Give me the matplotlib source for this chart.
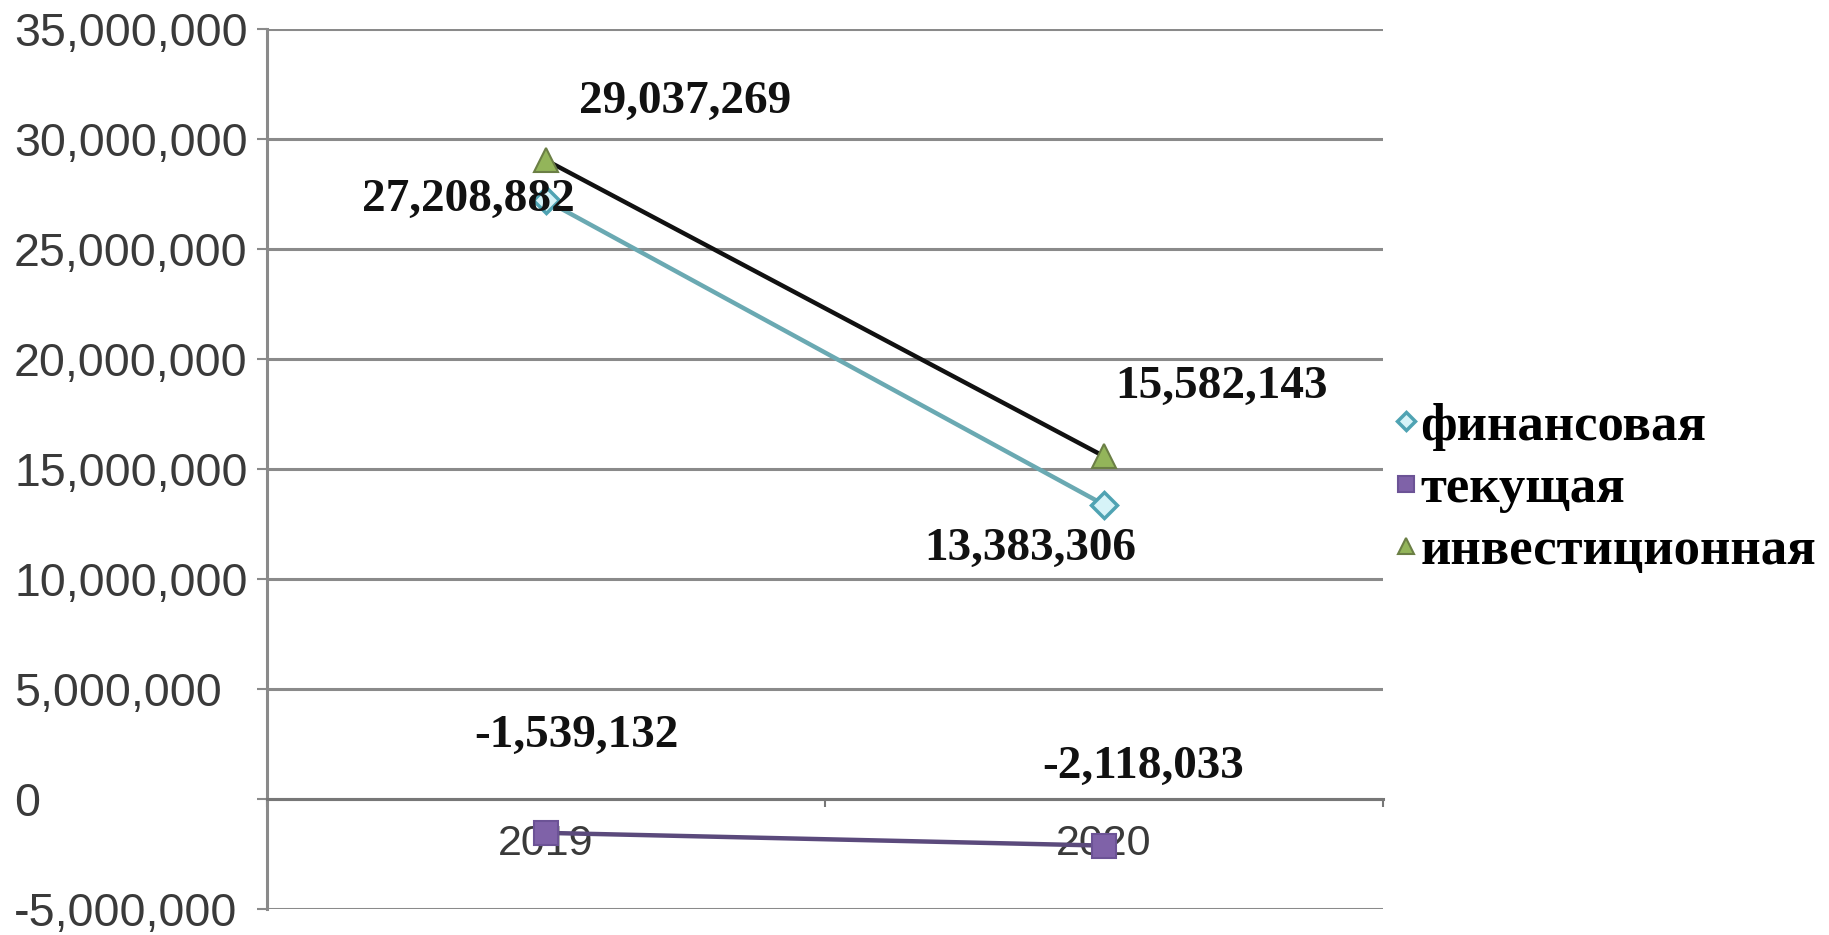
import matplotlib
matplotlib.use("Agg")
import matplotlib.pyplot as plt
from matplotlib.ticker import FuncFormatter, FixedLocator

years = ["2019", "2020"]
fin = [27208882, 13383306]
cur = [-1539132, -2118033]
inv = [29037269, 15582143]
series_names = ["финансовая", "текущая", "инвестиционная"]

DPI = 100
fig = plt.figure(figsize=(18.29, 9.35), dpi=DPI)
ax_left_px = 267
ax = fig.add_axes([ax_left_px / 1829, 0.0278, 0.756 - ax_left_px / 1829, 0.969 - 0.0278])

x = list(range(len(years)))
l_fin, = ax.plot(x, fin, color="#6aa9b2", lw=3.2, marker="D", markersize=13,
                 markerfacecolor="#d6f3f8", markeredgecolor="#4fa3b3", markeredgewidth=2.5,
                 zorder=4)
l_cur, = ax.plot(x, cur, color="#5b4a7c", lw=3.2, marker="s", markersize=17,
                 markerfacecolor="#7f62a8", markeredgecolor="#6c5396", markeredgewidth=1.5,
                 zorder=4)
l_inv, = ax.plot(x, inv, color="#111111", lw=3.2, marker="^", markersize=17,
                 markerfacecolor="#93b55a", markeredgecolor="#6b7f45", markeredgewidth=1.5,
                 zorder=3)

ax.set_xlim(-0.5, 1.5)
ax.set_ylim(-5000000, 35000000)
ax.set_yticks(range(-5000000, 35000001, 5000000))
ax.yaxis.set_major_formatter(FuncFormatter(lambda v, p: f"{int(v):,}"))
ax.yaxis.grid(True, color="#8a8a8a", lw=2.2)
ax.set_axisbelow(True)

for s in ["top", "right"]:
    ax.spines[s].set_visible(False)
ax.spines["left"].set_color("#8a8a8a")
ax.spines["left"].set_linewidth(2.2)
ax.spines["bottom"].set_position(("data", 0))
ax.spines["bottom"].set_color("#777777")
ax.spines["bottom"].set_linewidth(2.2)

ax.xaxis.set_major_locator(FixedLocator([-0.5, 0.5, 1.5]))
ax.xaxis.set_major_formatter(FuncFormatter(lambda v, p: ""))
ax.xaxis.set_minor_locator(FixedLocator(x))
ax.set_xticklabels(years, minor=True)
ax.tick_params(axis="x", which="major", direction="out", length=6, color="#777777", width=1.5)
ax.tick_params(axis="x", which="minor", length=0, pad=18, labelsize=31, labelcolor="#3a3a3a")
for t in ax.xaxis.get_minorticklabels():
    t.set_fontfamily("Liberation Sans")
    t.set_zorder(1)

tick_len_pt = 7
label_left_px = 14
pad_pt = (ax_left_px - label_left_px) * 72 / DPI - tick_len_pt
ax.tick_params(axis="y", direction="out", length=tick_len_pt, color="#8a8a8a", width=1.5,
               labelsize=33.5, labelcolor="#3a3a3a", pad=pad_pt)
for t in ax.get_yticklabels():
    t.set_fontfamily("Liberation Sans")
    t.set_horizontalalignment("left")

lab_kw = dict(textcoords="offset points", ha="center", va="center",
              fontsize=34, fontweight="bold", fontfamily="Liberation Serif", color="#111111",
              zorder=6, annotation_clip=False)
offsets_inv = [(100, 42), (85, 50)]
offsets_fin = [(-56, 0), (-53, -32)]
offsets_cur = [(22, 70), (28, 57)]
for i in x:
    ax.annotate(f"{inv[i]:,}", (i, inv[i]), xytext=offsets_inv[i], **lab_kw)
    ax.annotate(f"{fin[i]:,}", (i, fin[i]), xytext=offsets_fin[i], **lab_kw)
    ax.annotate(f"{cur[i]:,}", (i, cur[i]), xytext=offsets_cur[i], **lab_kw)

leg = fig.legend([l_fin, l_cur, l_inv], series_names, loc="center left",
                 bbox_to_anchor=(0.753, 0.477), frameon=False,
                 prop={"family": "Liberation Serif", "weight": "bold", "size": 38},
                 handlelength=0.3, handletextpad=0.12, labelspacing=0.27, borderaxespad=0,
                 markerscale=0.7)
for h in leg.legend_handles:
    h.set_linestyle("none")

fig.savefig("out.png", dpi=DPI, facecolor="white")
